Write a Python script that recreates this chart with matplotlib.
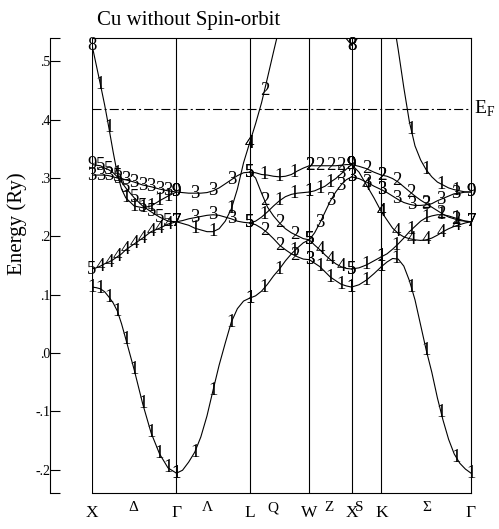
import numpy as np
import matplotlib
matplotlib.use("Agg")
import matplotlib.pyplot as plt

plt.rcParams['font.family'] = ['Liberation Serif', 'DejaVu Serif']
plt.rcParams['mathtext.fontset'] = 'custom'
plt.rcParams['mathtext.rm'] = 'Liberation Serif'
plt.rcParams['lines.scale_dashes'] = False

# k-path of the fcc zone, units of 2pi/a
sym_k = [0.0, 1.0, 1.8660, 2.5731, 3.0731, 3.4267, 4.4874]
sym_labels = ['X', 'Γ', 'L', 'W', 'X', 'K', 'Γ']
mid_k = [0.49, 1.36, 2.14, 2.80, 3.17, 3.97]
mid_labels = ['Δ', 'Λ', 'Q', 'Z', 'S', 'Σ']
e_fermi = 0.418
y_ticks = [-0.2, -0.1, 0.0, 0.1, 0.2, 0.3, 0.4, 0.5]
y_ticklabels = ['-.2', '-.1', '.0', '.1', '.2', '.3', '.4', '.5']
y_range = [-0.240, 0.540]

# each segment: fraction along segment, then (irrep labels at the computed k-points, energies in Ry)
delta_t = [0.0, 0.05, 0.1, 0.15, 0.2, 0.25, 0.3, 0.35, 0.4, 0.5, 0.6, 0.7, 0.8, 0.9, 1.0]
delta_bands = [
    ('11111111111', [0.113, 0.112, 0.110, 0.105, 0.096, 0.086, 0.072, 0.050, 0.024, -0.029, -0.087, -0.137, -0.173, -0.197, -0.206]),
    ('54444444447', [0.144, 0.146, 0.149, 0.153, 0.156, 0.160, 0.165, 0.170, 0.177, 0.187, 0.197, 0.208, 0.214, 0.221, 0.225]),
    ('95555555557', [0.323, 0.322, 0.321, 0.317, 0.314, 0.309, 0.302, 0.293, 0.283, 0.266, 0.252, 0.242, 0.233, 0.226, 0.225]),
    ('33333333339', [0.305, 0.305, 0.305, 0.305, 0.304, 0.302, 0.300, 0.299, 0.297, 0.293, 0.288, 0.285, 0.281, 0.278, 0.276]),
    ('81111111119', [0.528, 0.494, 0.460, 0.425, 0.386, 0.345, 0.307, 0.281, 0.266, 0.252, 0.249, 0.252, 0.261, 0.269, 0.276]),
]

lam_t = [0.0, 0.083, 0.167, 0.25, 0.333, 0.417, 0.5, 0.583, 0.667, 0.75, 0.833, 0.917, 1.0]
lam_bands = [
    ('11111', [-0.206, -0.201, -0.187, -0.170, -0.144, -0.108, -0.064, -0.021, 0.017, 0.053, 0.076, 0.089, 0.094]),
    ('93335', [0.276, 0.275, 0.274, 0.274, 0.274, 0.275, 0.278, 0.283, 0.290, 0.297, 0.304, 0.309, 0.310]),
    ('73335', [0.225, 0.227, 0.230, 0.232, 0.234, 0.236, 0.237, 0.236, 0.233, 0.230, 0.226, 0.224, 0.223]),
    ('71114', [0.225, 0.222, 0.219, 0.214, 0.211, 0.208, 0.208, 0.213, 0.226, 0.247, 0.281, 0.326, 0.360]),
]

q_t = [0.0, 0.1, 0.2, 0.3, 0.4, 0.5, 0.6, 0.7, 0.8, 0.9, 1.0]
q_bands = [
    ('11115', [0.094, 0.098, 0.106, 0.118, 0.132, 0.144, 0.158, 0.170, 0.180, 0.189, 0.194]),
    ('51112', [0.310, 0.309, 0.306, 0.305, 0.303, 0.302, 0.303, 0.306, 0.312, 0.317, 0.321]),
    ('52225', [0.310, 0.300, 0.274, 0.250, 0.235, 0.223, 0.213, 0.206, 0.201, 0.196, 0.194]),
    ('51111', [0.223, 0.226, 0.233, 0.242, 0.252, 0.261, 0.268, 0.272, 0.274, 0.275, 0.276]),
    ('52223', [0.223, 0.220, 0.214, 0.206, 0.196, 0.185, 0.177, 0.170, 0.165, 0.161, 0.160]),
    ('42222', [0.360, 0.393, 0.429, 0.472, 0.516, 0.559, 0.597, 0.631, 0.660, 0.684, 0.700]),
]

z_t = [0.0, 0.125, 0.25, 0.375, 0.5, 0.625, 0.75, 0.875, 1.0]
z_bands = [
    ('22229', [0.321, 0.321, 0.321, 0.321, 0.321, 0.321, 0.322, 0.323, 0.323]),
    ('11139', [0.276, 0.278, 0.282, 0.286, 0.293, 0.299, 0.307, 0.315, 0.323]),
    ('53333', [0.194, 0.206, 0.223, 0.242, 0.261, 0.276, 0.288, 0.297, 0.302]),
    ('54445', [0.194, 0.185, 0.177, 0.168, 0.160, 0.153, 0.148, 0.145, 0.144]),
    ('31111', [0.160, 0.154, 0.148, 0.139, 0.130, 0.124, 0.118, 0.115, 0.113]),
    ('22228', [0.700, 0.683, 0.662, 0.636, 0.609, 0.582, 0.561, 0.539, 0.528]),
]

s_t = [0.0, 0.25, 0.5, 0.75, 1.0]
s_bands = [
    ('111', [0.113, 0.117, 0.125, 0.136, 0.148]),
    ('511', [0.144, 0.146, 0.151, 0.158, 0.165]),
    ('944', [0.323, 0.310, 0.288, 0.266, 0.242]),
    ('333', [0.302, 0.299, 0.293, 0.286, 0.280]),
    ('922', [0.323, 0.320, 0.316, 0.310, 0.305]),
    ('811', [0.528, 0.542, 0.571, 0.614, 0.666]),
]

sig_t = [0.0, 0.0625, 0.125, 0.1875, 0.25, 0.3125, 0.375, 0.4375, 0.5,
         0.5625, 0.625, 0.6875, 0.75, 0.8125, 0.875, 0.9375, 1.0]
sig_bands = [
    ('1111111', [0.148, 0.156, 0.162, 0.161, 0.149, 0.124, 0.091, 0.048, 0.005, -0.033, -0.077, -0.115, -0.148, -0.173, -0.189, -0.199, -0.206]),
    ('1111117', [0.165, 0.170, 0.178, 0.187, 0.197, 0.208, 0.217, 0.226, 0.232, 0.235, 0.237, 0.237, 0.235, 0.232, 0.229, 0.226, 0.225]),
    ('4444447', [0.242, 0.228, 0.214, 0.205, 0.199, 0.196, 0.194, 0.193, 0.194, 0.197, 0.202, 0.208, 0.213, 0.217, 0.220, 0.223, 0.225]),
    ('3333339', [0.280, 0.275, 0.269, 0.263, 0.258, 0.255, 0.253, 0.253, 0.254, 0.256, 0.261, 0.265, 0.269, 0.273, 0.274, 0.276, 0.276]),
    ('2222227', [0.305, 0.303, 0.299, 0.293, 0.285, 0.277, 0.269, 0.262, 0.256, 0.250, 0.244, 0.238, 0.233, 0.230, 0.227, 0.226, 0.225]),
    ('1111119', [0.666, 0.623, 0.580, 0.520, 0.455, 0.396, 0.355, 0.331, 0.314, 0.302, 0.293, 0.288, 0.283, 0.280, 0.278, 0.276, 0.276]),
]

segments = [(delta_t, delta_bands), (lam_t, lam_bands), (q_t, q_bands),
            (z_t, z_bands), (s_t, s_bands), (sig_t, sig_bands)]

fig = plt.figure(figsize=(4.99, 5.29), dpi=100)
ax = fig.add_axes([92 / 499, 36 / 529, 379 / 499, 455 / 529])


def draw_segment(k0, k1, t, bands):
    t = np.asarray(t)
    k = k0 + (k1 - k0) * t
    for labels, e in bands:
        ax.plot(k, e, color='black', lw=0.8)
        tl = np.linspace(0, 1, len(labels))
        el = np.interp(tl, t, e)
        for kk, ee, s in zip(k0 + (k1 - k0) * tl, el, labels):
            # irrep labels only where the point is inside the energy window
            if y_range[0] < ee < y_range[1]:
                ax.text(kk, ee, s, ha='center', va='center', fontsize=13.5,
                        clip_on=False)


for i, (t, bands) in enumerate(segments):
    draw_segment(sym_k[i], sym_k[i + 1], t, bands)

for k in sym_k[:-1]:
    ax.axvline(k, color='black', lw=0.8)

ax.axhline(e_fermi, color='black', lw=0.8, linestyle=(0, (6.5, 2.2, 1.5, 2.2)))
ax.text(1.008, e_fermi, r'E$_{\rm F}$', transform=ax.get_yaxis_transform(),
        ha='left', va='center', fontsize=14)

ax.set_xlim(sym_k[0], sym_k[-1])
ax.set_ylim(y_range)
ax.set_xticks([])
ax.set_yticks([y_range[0]] + y_ticks + [y_range[1]])
ax.set_yticklabels([''] + y_ticklabels + [''], rotation=90, va='center',
                   ha='right', fontsize=14)
ax.tick_params(axis='y', direction='in', length=7.2, width=0.8, pad=0)
ax.spines['left'].set_position(('outward', 30))
for sp in ax.spines.values():
    sp.set_linewidth(0.8)

xform = ax.get_xaxis_transform()
for k, s in zip(sym_k, sym_labels):
    ax.text(k, -0.045, s, transform=xform, ha='center', va='center', fontsize=12.5)
for k, s in zip(mid_k, mid_labels):
    ax.text(k, -0.032, s, transform=xform, ha='center', va='center', fontsize=11)

fig.text(17 / 499, 1 - 224 / 529, 'Energy (Ry)', fontsize=15, rotation=90,
         ha='center', va='center')
fig.text(97 / 499, 1 - 25 / 529, 'Cu without Spin-orbit', fontsize=15,
         ha='left', va='baseline')

fig.savefig('out.png', dpi=100)
